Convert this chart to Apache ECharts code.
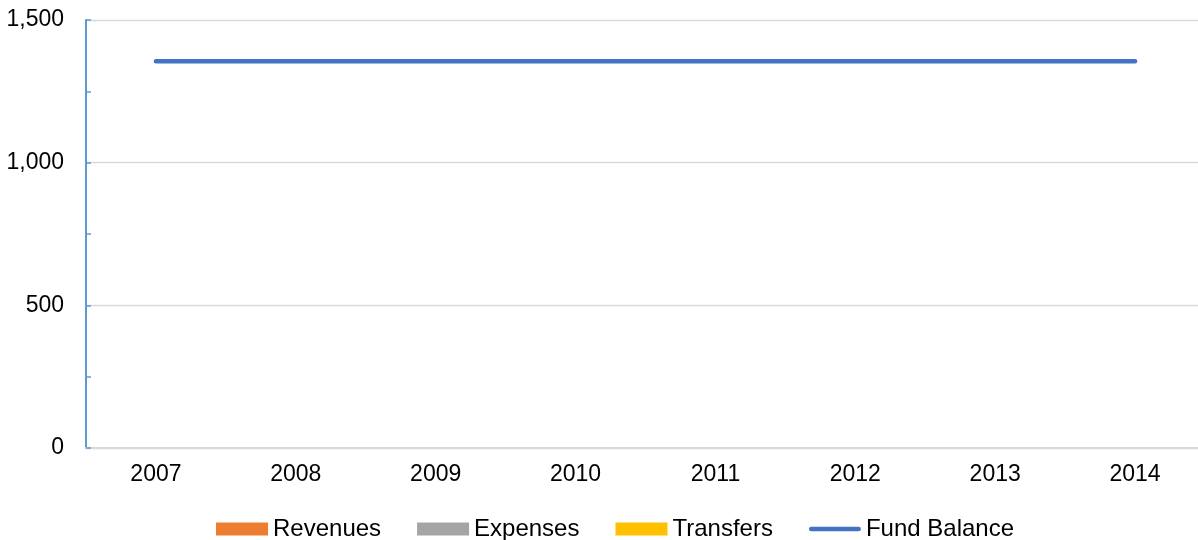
<!DOCTYPE html>
<html>
<head>
<meta charset="utf-8">
<script src="https://cdn.jsdelivr.net/npm/echarts@6/dist/echarts.min.js"></script>
<style>html,body{margin:0;padding:0;background:#fff}#c{width:1198px;height:540px}</style>
</head>
<body>
<div id="c"></div>
<script>
const years = ['2007','2008','2009','2010','2011','2012','2013','2014'];
const revenues = [0,0,0,0,0,0,0,0];
const expenses = [0,0,0,0,0,0,0,0];
const transfers = [0,0,0,0,0,0,0,0];
const fundBalance = [1355,1355,1355,1355,1355,1355,1355,1355];

const chart = echarts.init(document.getElementById('c'));
const font = 'Liberation Sans, Arial, sans-serif';
chart.setOption({
  animation: false,
  textStyle: {fontFamily: font},
  grid: {left: 86, width: 1119, top: 20, bottom: 92, outerBoundsMode: 'none', containLabel: false},
  legend: {
    left: 211, top: 512,
    itemWidth: 52, itemHeight: 13, itemGap: 36,
    textStyle: {fontSize: 24, color: '#000', fontFamily: font},
    data: [
      {name:'Revenues', icon:'rect'},
      {name:'Expenses', icon:'rect'},
      {name:'Transfers', icon:'rect'},
      {name:'Fund Balance', icon:'path://M2.5,0 L53.5,0 A2.5,2.5 0 0 1 53.5,5 L2.5,5 A2.5,2.5 0 0 1 2.5,0 Z'}
    ]
  },
  xAxis: {
    type: 'category', data: years, boundaryGap: true,
    axisLine: {lineStyle: {color: '#d9d9d9', width: 2}},
    axisTick: {show: false},
    axisLabel: {fontSize: 23, color: '#000', margin: 15, fontFamily: font}
  },
  yAxis: {
    type: 'value', min: 0, max: 1500, interval: 500,
    axisLine: {show: true, lineStyle: {color: '#5b9bd5', width: 2}},
    axisTick: {show: true, inside: true, length: 5, lineStyle: {color: '#5b9bd5', width: 1.5}},
    minorTick: {show: true, splitNumber: 2, length: 5, lineStyle: {color: '#5b9bd5', width: 1.5}},
    splitLine: {show: true, lineStyle: {color: '#d9d9d9', width: 1.3}},
    axisLabel: {fontSize: 23, color: '#000', margin: 22, fontFamily: font,
      formatter: v => v.toLocaleString('en-US')}
  },
  series: [
    {name:'Revenues', type:'bar', data: revenues, itemStyle:{color:'#ed7d31'}},
    {name:'Expenses', type:'bar', data: expenses, itemStyle:{color:'#a5a5a5'}},
    {name:'Transfers', type:'bar', data: transfers, itemStyle:{color:'#ffc000'}},
    {name:'Fund Balance', type:'line', data: fundBalance, symbol:'none',
      itemStyle:{color:'#4472c4'},
      lineStyle:{color:'#4472c4', width: 4.5, cap:'round'}}
  ]
});
</script>
</body>
</html>
